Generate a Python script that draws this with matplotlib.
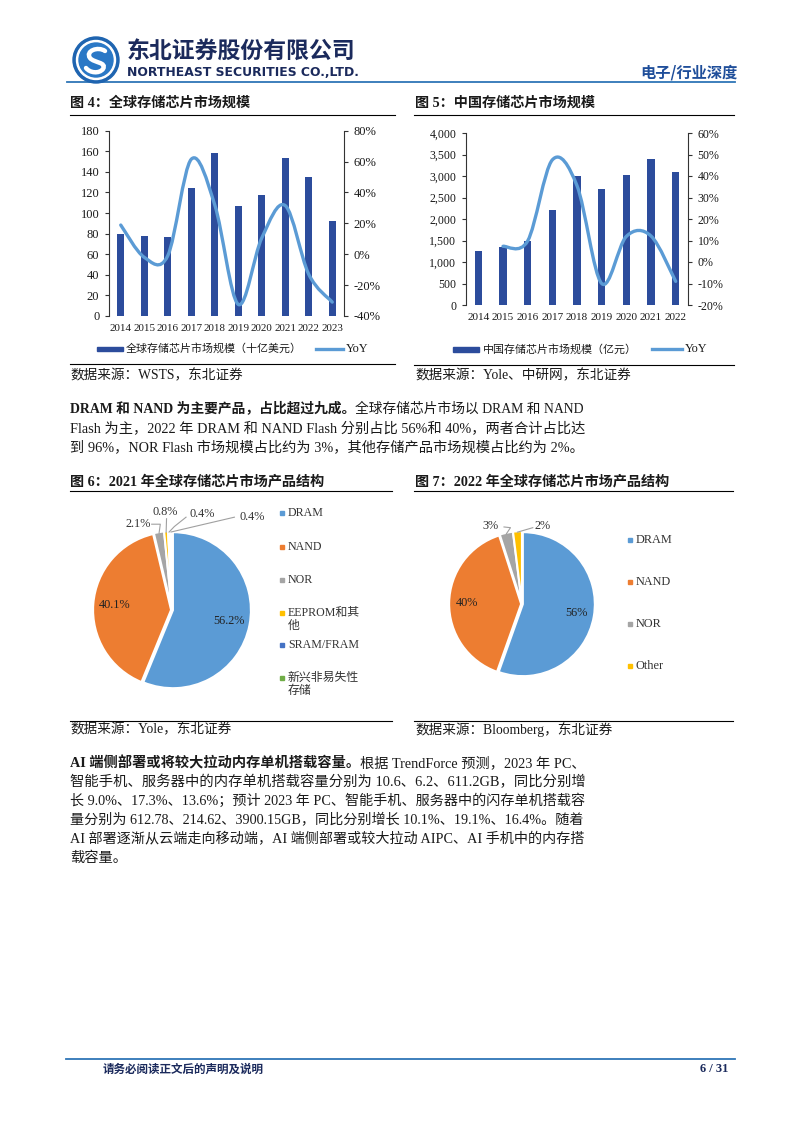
import matplotlib
matplotlib.use('Agg')
import matplotlib.pyplot as plt
import numpy as np
from matplotlib.path import Path
from matplotlib.patches import PathPatch, Rectangle, Circle
from matplotlib.lines import Line2D
from matplotlib.ticker import FuncFormatter, MultipleLocator

W, H = 802, 1133
SERIF = ['Liberation Serif', 'Noto Sans CJK SC']
CJK = ['Noto Sans CJK SC', 'DejaVu Sans']
plt.rcParams['font.family'] = SERIF

# ---------------- data ----------------
years_global = ['2014', '2015', '2016', '2017', '2018', '2019', '2020', '2021', '2022', '2023']
global_market = [79.3, 77.3, 76.7, 124, 158, 106.5, 117.5, 153.7, 134.6, 92.2]
global_yoy = [18.9, -2.0, -1.0, 61.5, 32.0, -32.5, 10.5, 31.5, -13.0, -31.0]

years_china = ['2014', '2015', '2016', '2017', '2018', '2019', '2020', '2021', '2022']
china_market = [1260, 1360, 1500, 2214, 2990, 2695, 3014, 3386, 3091]
china_yoy = [np.nan, 7.3, 9.8, 47.5, 35.5, -10.0, 11.9, 12.1, -9.0]

pie2021_labels = ['DRAM', 'NAND', 'NOR', 'EEPROM和其\n他', 'SRAM/FRAM', '新兴非易失性\n存储']
pie2021_values = [56.2, 40.1, 2.1, 0.8, 0.4, 0.4]
pie2021_text = ['56.2%', '40.1%', '2.1%', '0.8%', '0.4%', '0.4%']

pie2022_labels = ['DRAM', 'NAND', 'NOR', 'Other']
pie2022_values = [56, 40, 3, 2]
pie2022_text = ['56%', '40%', '3%', '2%']

BAR = '#2C4C9C'
LINE = '#5B9BD5'
PIE_COLORS = ['#5B9BD5', '#ED7D31', '#A5A5A5', '#FFC000', '#4472C4', '#70AD47']
TXT = '#1a1a1a'
NAVY = '#1B2A5C'
HBLUE = '#2E75B6'

fig = plt.figure(figsize=(W / 100, H / 100), dpi=100)
fig.patch.set_facecolor('white')
renderer = fig.canvas.get_renderer()

ov = fig.add_axes([0, 0, 1, 1])
ov.set_xlim(0, W)
ov.set_ylim(H, 0)
ov.axis('off')
ov.set_zorder(5)
ov.patch.set_alpha(0)


def ax_px(l, t, r, b):
    return fig.add_axes([l / W, 1 - b / H, (r - l) / W, (b - t) / H])


def txt(x, y, s, size, family=CJK, weight='normal', color=TXT, ha='left', va='center', fit=None, **kw):
    t = ov.text(x, y, s, fontsize=size, family=family, weight=weight, color=color, ha=ha, va=va, **kw)
    if fit:
        w = t.get_window_extent(renderer).width
        t.set_fontsize(size * fit / w)
    return t


def runs(x, y, parts, size, fit=None, color=TXT):
    def draw(sz):
        objs = []
        cx = x
        for s, wt in parts:
            t = ov.text(cx, y, s, fontsize=sz, family=SERIF, weight=wt, color=color, ha='left', va='center')
            cx += t.get_window_extent(renderer).width
            objs.append(t)
        return objs, cx - x
    objs, w = draw(size)
    if fit:
        for o in objs:
            o.remove()
        objs, w = draw(size * fit / w)
    return objs


def hline(y, x0, x1, color='k', lw=0.8):
    ov.add_line(Line2D([x0, x1], [y, y], color=color, lw=lw))


def smooth_path(xs, ys):
    pts = np.column_stack([xs, ys]).astype(float)
    n = len(pts)
    verts = [pts[0]]
    codes = [Path.MOVETO]
    for i in range(n - 1):
        p0 = pts[i - 1] if i > 0 else pts[i]
        p1 = pts[i]
        p2 = pts[i + 1]
        p3 = pts[i + 2] if i + 2 < n else pts[i + 1]
        c1 = p1 + (p2 - p0) / 6.0
        c2 = p2 - (p3 - p1) / 6.0
        verts += [c1, c2, p2]
        codes += [Path.CURVE4] * 3
    return Path(verts, codes)


# ---------------- header ----------------
cx, cy = 96, 60
ov.add_patch(Circle((cx, cy), 23, color='#1E64B0', zorder=6))
ov.add_patch(Circle((cx, cy), 19.5, color='white', zorder=6))
ov.add_patch(Circle((cx, cy), 17, color='#2A78C6', zorder=6))
s_path = Path([(cx + 9, cy - 9), (cx + 2, cy - 14), (cx - 11, cy - 9), (cx - 6, cy - 2),
               (cx - 2, cy + 3), (cx + 11, cy + 2), (cx + 7, cy + 9),
               (cx + 3, cy + 14), (cx - 6, cy + 13), (cx - 10, cy + 8)],
              [Path.MOVETO, Path.CURVE4, Path.CURVE4, Path.CURVE4,
               Path.CURVE4, Path.CURVE4, Path.CURVE4,
               Path.CURVE4, Path.CURVE4, Path.CURVE4])
ov.add_patch(PathPatch(s_path, fill=False, edgecolor='white', lw=3.2, capstyle='round', zorder=7))

txt(127, 51, '东北证券股份有限公司', 17, family=CJK, weight='heavy', color=NAVY, fit=229)
txt(127, 72, 'NORTHEAST SECURITIES CO.,LTD.', 9, family=['DejaVu Sans'], weight='bold', color=NAVY, fit=231)
txt(738, 72, '电子/行业深度', 11, family=CJK, weight='bold', color='#1F4E9A', ha='right')
hline(82, 67, 735, color=HBLUE, lw=1.3)

# ---------------- chart titles ----------------
txt(70, 103, '图 4：全球存储芯片市场规模', 10.2, family=SERIF, weight='bold')
txt(415, 103, '图 5：中国存储芯片市场规模', 10.2, family=SERIF, weight='bold')
hline(115, 70, 395)
hline(115, 414, 734)


def style_axes(ax, ax2, ysize, xsize):
    for a in (ax, ax2):
        a.spines['top'].set_visible(False)
        a.spines['bottom'].set_visible(False)
        a.patch.set_alpha(0)
    ax.spines['right'].set_visible(False)
    ax2.spines['left'].set_visible(False)
    ax.spines['left'].set_color('#333333')
    ax2.spines['right'].set_color('#333333')
    ax.spines['left'].set_linewidth(0.8)
    ax2.spines['right'].set_linewidth(0.8)
    ax.tick_params(axis='y', direction='out', length=3, width=0.8, labelsize=ysize, pad=4, colors='#333333', labelcolor=TXT)
    ax2.tick_params(axis='y', direction='out', length=3, width=0.8, labelsize=ysize, pad=4, colors='#333333', labelcolor=TXT)
    ax.tick_params(axis='x', length=0, labelsize=xsize, pad=6, labelcolor=TXT)


# ---- chart 4 ----
ax4 = ax_px(109, 130.7, 344, 316)
x4 = np.arange(len(years_global))
ax4.bar(x4, global_market, width=0.31, color=BAR, zorder=2)
ax4.set_xlim(-0.5, len(years_global) - 0.5)
ax4.set_ylim(0, 180)
ax4.yaxis.set_major_locator(MultipleLocator(20))
ax4.set_xticks(x4)
ax4.set_xticklabels(years_global)
ax4b = ax4.twinx()
ax4b.set_ylim(-40, 80)
ax4b.yaxis.set_major_locator(MultipleLocator(20))
ax4b.yaxis.set_major_formatter(FuncFormatter(lambda v, p: f'{v:.0f}%'))
ax4b.add_patch(PathPatch(smooth_path(x4, global_yoy), fill=False, edgecolor=LINE, lw=2.4,
                         capstyle='round', joinstyle='round', zorder=3))
style_axes(ax4, ax4b, 9.0, 7.9)

# legend 4
ov.add_patch(Rectangle((97, 346.5), 26, 4.5, color=BAR))
txt(126, 348.5, '全球存储芯片市场规模（十亿美元）', 7.9, family=SERIF)
ov.add_line(Line2D([316, 343], [348.5, 348.5], color=LINE, lw=2.4))
txt(346, 348.5, 'YoY', 8.8, family=SERIF)
hline(364, 70, 395)
txt(70, 376, '数据来源：WSTS，东北证券', 9.8, family=SERIF)

# ---- chart 5 ----
ax5 = ax_px(466, 133, 688, 305)
x5 = np.arange(len(years_china))
ax5.bar(x5, china_market, width=0.31, color=BAR, zorder=2)
ax5.set_xlim(-0.5, len(years_china) - 0.5)
ax5.set_ylim(0, 4000)
ax5.yaxis.set_major_locator(MultipleLocator(500))
ax5.yaxis.set_major_formatter(FuncFormatter(lambda v, p: f'{v:,.0f}'))
ax5.set_xticks(x5)
ax5.set_xticklabels(years_china)
ax5b = ax5.twinx()
ax5b.set_ylim(-20, 60)
ax5b.yaxis.set_major_locator(MultipleLocator(10))
ax5b.yaxis.set_major_formatter(FuncFormatter(lambda v, p: f'{v:.0f}%'))
cy_arr = np.array(china_yoy, dtype=float)
ok = ~np.isnan(cy_arr)
ax5b.add_patch(PathPatch(smooth_path(x5[ok], cy_arr[ok]), fill=False, edgecolor=LINE, lw=2.4,
                         capstyle='round', joinstyle='round', zorder=3))
style_axes(ax5, ax5b, 8.6, 8.1)

ov.add_patch(Rectangle((453, 347), 26, 4.5, color=BAR))
txt(483, 349, '中国存储芯片市场规模（亿元）', 7.9, family=SERIF)
ov.add_line(Line2D([652, 682], [349, 349], color=LINE, lw=2.4))
txt(685, 349, 'YoY', 8.8, family=SERIF)
hline(365, 414, 734)
txt(415, 376, '数据来源：Yole、中研网，东北证券', 9.8, family=SERIF)

# ---------------- paragraph 1 ----------------
PS = 10.3
runs(70, 409, [('DRAM 和 NAND 为主要产品，占比超过九成。', 'bold'),
               ('全球存储芯片市场以 DRAM 和 NAND', 'normal')], PS, fit=512)
runs(70, 429, [('Flash 为主，2022 年 DRAM 和 NAND Flash 分别占比 56%和 40%，两者合计占比达', 'normal')], PS, fit=512)
runs(70, 448, [('到 96%，NOR Flash 市场规模占比约为 3%，其他存储产品市场规模占比约为 2%。', 'normal')], PS, fit=510)

# ---------------- pie titles ----------------
txt(70, 482, '图 6：2021 年全球存储芯片市场产品结构', 10.2, family=SERIF, weight='bold')
txt(415, 482, '图 7：2022 年全球存储芯片市场产品结构', 10.2, family=SERIF, weight='bold')
hline(491, 70, 392)
hline(491, 414, 733)


def draw_pie(cx, cy, r, values, colors, texts, inside_dist, outside, leaders):
    span = 1.6
    ax = ax_px(cx - r * span, cy - r * span, cx + r * span, cy + r * span)
    ax.pie(values, colors=colors, startangle=90, counterclock=False, radius=1,
           explode=[0.012] * len(values),
           wedgeprops=dict(edgecolor='white', linewidth=1.5))
    ax.set_xlim(-span, span)
    ax.set_ylim(-span, span)
    ax.set_aspect('equal')
    ax.axis('off')
    tot = float(sum(values))
    cum = 0.0
    mids = []
    for v in values:
        mid = 90 - (cum + v / 2) / tot * 360
        mids.append(np.deg2rad(mid))
        cum += v
    for i in range(2):
        a = mids[i]
        ax.text(inside_dist * np.cos(a), inside_dist * np.sin(a), texts[i], ha='center', va='center',
                fontsize=8.8, family=SERIF, color='#222222')
    for i, (lx, ly) in outside.items():
        ax.text(lx, ly, texts[i], ha='center', va='center', fontsize=8.8, family=SERIF, color='#333333')
        pts = leaders[i] + [(1.0 * np.cos(mids[i]), 1.0 * np.sin(mids[i]))]
        xs, ys = zip(*pts)
        ax.plot(xs, ys, color='#A0A0A0', lw=0.8)
    return ax


r6 = 78
draw_pie(172, 610, r6, pie2021_values, PIE_COLORS, pie2021_text, 0.74,
         outside={2: (-0.43, 1.10), 3: (-0.09, 1.26), 4: (0.39, 1.23), 5: (1.03, 1.19)},
         leaders={2: [(-0.26, 1.10), (-0.15, 1.10)],
                  3: [(-0.07, 1.17)],
                  4: [(0.18, 1.19), (0.03, 1.07)],
                  5: [(0.80, 1.19)]})

# legend 6
leg6_y = [513, 547, 580, 613, 645, 678]
for lab, col, y in zip(pie2021_labels, PIE_COLORS, leg6_y):
    ov.add_patch(Rectangle((280, y - 2), 4, 4, color=col))
    lines = lab.split('\n')
    for k, ln in enumerate(lines):
        txt(288, y + k * 13, ln, 8.6, family=SERIF, color='#333333')

hline(721, 70, 392)
txt(70, 730, '数据来源：Yole，东北证券', 9.8, family=SERIF)

r7 = 72
draw_pie(522, 604, r7, pie2022_values, PIE_COLORS[:4], pie2022_text, 0.77,
         outside={2: (-0.44, 1.08), 3: (0.29, 1.08)},
         leaders={2: [(-0.25, 1.07), (-0.16, 1.06)],
                  3: [(0.15, 1.06)]})

leg7_y = [540, 582, 624, 666]
for lab, col, y in zip(pie2022_labels, PIE_COLORS[:4], leg7_y):
    ov.add_patch(Rectangle((628, y - 2), 4, 4, color=col))
    txt(636, y, lab, 8.8, family=SERIF, color='#333333')

hline(721, 414, 733)
txt(415, 730, '数据来源：Bloomberg，东北证券', 9.8, family=SERIF)

# ---------------- paragraph 2 ----------------
runs(70, 763, [('AI 端侧部署或将较大拉动内存单机搭载容量。', 'bold'),
               ('根据 TrendForce 预测，2023 年 PC、', 'normal')], PS, fit=512)
runs(70, 782, [('智能手机、服务器中的内存单机搭载容量分别为 10.6、6.2、611.2GB，同比分别增', 'normal')], PS, fit=512)
runs(70, 801, [('长 9.0%、17.3%、13.6%；预计 2023 年 PC、智能手机、服务器中的闪存单机搭载容', 'normal')], PS, fit=512)
runs(70, 820, [('量分别为 612.78、214.62、3900.15GB，同比分别增长 10.1%、19.1%、16.4%。随着', 'normal')], PS, fit=512)
runs(70, 839, [('AI 部署逐渐从云端走向移动端，AI 端侧部署或较大拉动 AIPC、AI 手机中的内存搭', 'normal')], PS, fit=512)
runs(70, 858, [('载容量。', 'normal')], PS)

# ---------------- footer ----------------
hline(1059, 66, 735, color=HBLUE, lw=1.3)
txt(103, 1069, '请务必阅读正文后的声明及说明', 8.3, family=CJK, weight='bold', color=NAVY)
txt(728, 1069, '6 / 31', 9, family=SERIF, weight='bold', color=NAVY, ha='right')

fig.savefig('out.png', dpi=100, facecolor='white')
